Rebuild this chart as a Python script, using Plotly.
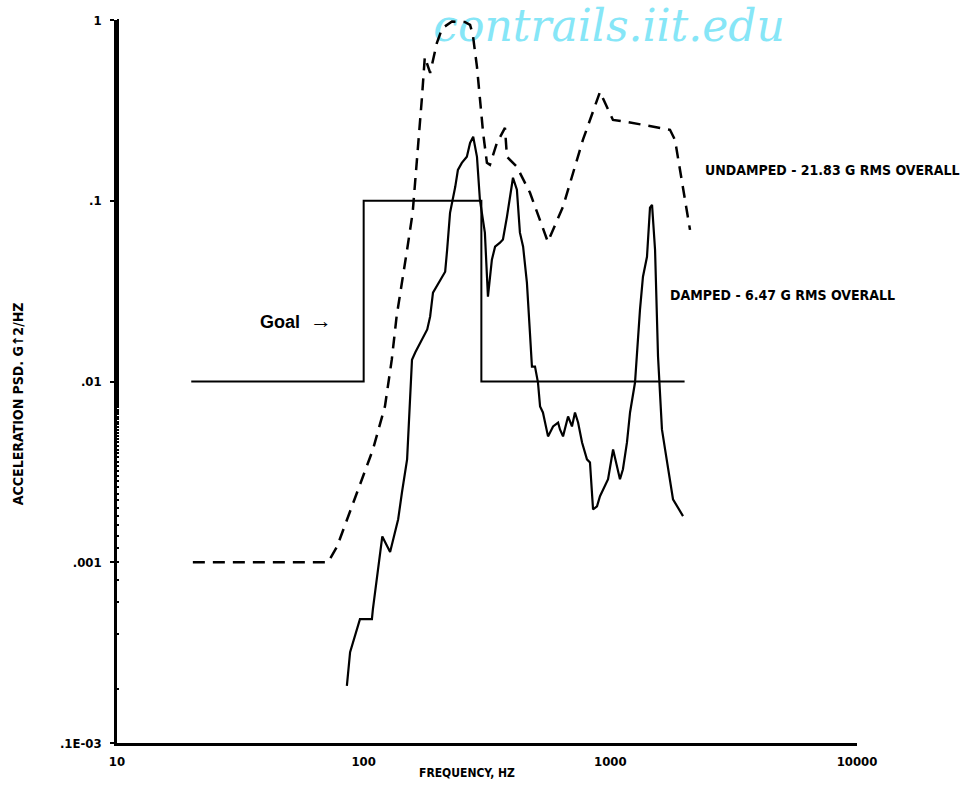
import plotly.graph_objects as go

# Frequency (Hz) and acceleration PSD (G^2/Hz) for the undamped response
undamped_freq = [20.3, 71.7, 78, 90.6, 109, 122, 130, 136, 143, 150, 158, 166, 172, 177,
                 186, 198, 208, 228, 257, 270, 277, 288, 296, 305, 316, 325, 347, 374,
                 381, 418, 472, 558, 643, 774, 908, 1025, 1168, 1745, 1829, 2104]
undamped_psd = [0.001, 0.001, 0.00122, 0.00214, 0.0042, 0.0073, 0.0132, 0.0229, 0.0366,
                0.0536, 0.086, 0.191, 0.361, 0.625, 0.51, 0.746, 0.90, 0.98, 0.975, 0.94,
                0.83, 0.55, 0.36, 0.237, 0.162, 0.158, 0.209, 0.253, 0.175, 0.154, 0.111,
                0.0593, 0.0927, 0.217, 0.40, 0.28, 0.273, 0.247, 0.217, 0.069]

# Damped response
damped_freq = [85.5, 88.1, 96.6, 108, 109, 119, 128, 138, 143, 150, 157, 162, 181, 186,
               191, 214, 218, 224, 235, 241, 250, 262, 270, 278, 288, 296, 310, 316, 319,
               331, 341, 357, 367, 381, 399, 403, 418, 430, 443, 459, 472, 481, 495, 509,
               519, 533, 559, 586, 614, 625, 643, 674, 699, 719, 740, 768, 804, 827, 851,
               883, 908, 934, 979, 1026, 1065, 1094, 1125, 1168, 1202, 1259, 1319, 1356,
               1408, 1448, 1476, 1518, 1561, 1619, 1667, 1745, 1795, 1971]
damped_psd = [2.07e-4, 3.18e-4, 4.84e-4, 4.84e-4, 5.5e-4, 1.39e-3, 1.14e-3, 1.73e-3,
              2.44e-3, 3.71e-3, 0.0132, 0.0145, 0.0194, 0.0229, 0.031, 0.0405, 0.0536,
              0.0858, 0.119, 0.148, 0.162, 0.175, 0.209, 0.226, 0.175, 0.101, 0.0666,
              0.0352, 0.0295, 0.0472, 0.0557, 0.0586, 0.061, 0.0816, 0.126, 0.134, 0.115,
              0.0666, 0.0557, 0.0352, 0.0187, 0.0121, 0.0121, 0.00987, 0.00728, 0.00674,
              0.00497, 0.00564, 0.00593, 0.00543, 0.00497, 0.00641, 0.00564, 0.00674,
              0.00593, 0.0046, 0.00371, 0.00357, 0.00196, 0.00204, 0.00232, 0.00253,
              0.00288, 0.00421, 0.00339, 0.00288, 0.00327, 0.0046, 0.00674, 0.00987,
              0.025, 0.038, 0.049, 0.0915, 0.095, 0.0536, 0.0137, 0.00543, 0.00421,
              0.00277, 0.00223, 0.0018]

# Goal specification (step profile)
goal_freq = [20, 100, 100, 300, 300, 2000]
goal_psd = [0.01, 0.01, 0.1, 0.1, 0.01, 0.01]

# Axis ticks
x_tickvals = [10, 100, 1000, 10000]
x_ticktext = ["10", "100", "1000", "10000"]
y_tickvals = [1e-4, 1e-3, 1e-2, 1e-1, 1]
y_ticktext = [".1E-03", ".001", ".01", ".1", "1"]

PLOT_FONT = "DejaVu Sans Condensed, DejaVu Sans, sans-serif"

fig = go.Figure()
fig.add_trace(go.Scatter(x=goal_freq, y=goal_psd, mode="lines",
                         line=dict(color="black", width=2), showlegend=False,
                         cliponaxis=False))
fig.add_trace(go.Scatter(x=undamped_freq, y=undamped_psd, mode="lines",
                         line=dict(color="black", width=2.5, dash="12px,8px"),
                         showlegend=False, cliponaxis=False))
fig.add_trace(go.Scatter(x=damped_freq, y=damped_psd, mode="lines",
                         line=dict(color="black", width=2.2), showlegend=False))

fig.update_layout(
    width=961, height=788,
    margin=dict(l=117, r=104, t=20, b=45),
    paper_bgcolor="white", plot_bgcolor="rgba(0,0,0,0)",
    xaxis=dict(type="log", range=[1, 4], tickvals=x_tickvals, ticktext=x_ticktext,
               showgrid=False, zeroline=False, showline=True, linecolor="black",
               linewidth=2.5, ticks="", ticklabelstandoff=5,
               tickfont=dict(family=PLOT_FONT, size=13, color="black", weight="bold")),
    yaxis=dict(type="log", range=[-4, 0], tickvals=y_tickvals, ticktext=y_ticktext,
               showgrid=False, zeroline=False, showline=True, linecolor="black",
               linewidth=2.5, ticks="outside", ticklen=4, tickwidth=2, tickcolor="black",
               ticklabelstandoff=6,
               minor=dict(ticks="inside", ticklen=2, tickwidth=1.5, tickcolor="black",
                          showgrid=False),
               tickfont=dict(family=PLOT_FONT, size=13, color="black", weight="bold")),
)

def label(text, x, y, size=12, xanchor="left", **kw):
    fig.add_annotation(text=text, xref="paper", yref="paper", x=x, y=y,
                       xanchor=xanchor, yanchor="middle", showarrow=False,
                       font=dict(family=kw.pop("family", PLOT_FONT), size=size,
                                 color=kw.pop("color", "black"),
                                 weight=kw.pop("weight", "bold"),
                                 style=kw.pop("style", "normal")), **kw)

label("UNDAMPED - 21.83 G RMS OVERALL", 0.792, 0.7925, size=14)
label("DAMPED - 6.47 G RMS OVERALL", 0.7446, 0.6196, size=14)
label("Goal  <span style='font-size:22px'>→</span>", 0.1905, 0.585, size=18,
      family="Liberation Sans, Arial, sans-serif")
label("FREQUENCY, HZ", 0.405, -0.0415, size=12)
label("ACCELERATION PSD. G↑2/HZ", -0.1338, 0.470, size=14, xanchor="center",
      textangle=-90)

# Site mark drawn underneath the curves
fig.add_shape(type="rect", xref="paper", yref="paper",
              x0=0.40, x1=0.93, y0=0.962, y1=1.032, layer="below",
              line=dict(width=0), fillcolor="rgba(0,0,0,0)",
              label=dict(text="contrails.iit.edu", textposition="middle center",
                         font=dict(family="DejaVu Serif, serif", size=44,
                                   color="#86e6f7", style="italic")))

fig.write_html("out.html")
